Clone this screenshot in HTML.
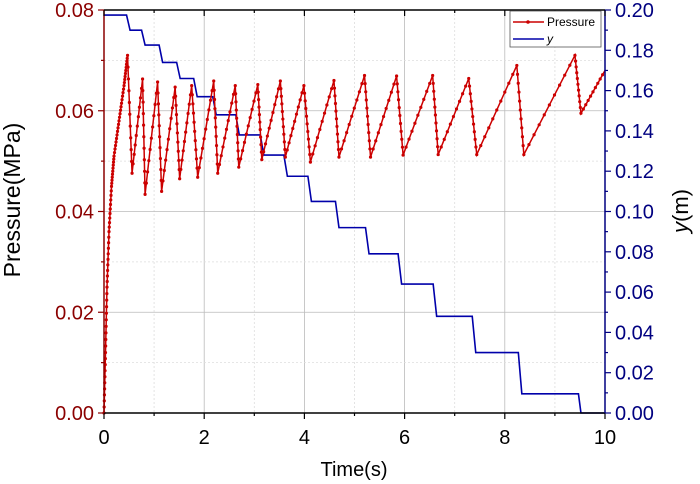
<!DOCTYPE html>
<html><head><meta charset="utf-8"><style>
body{margin:0;background:#fff}
svg{display:block;font-family:"Liberation Sans",sans-serif}
</style></head><body>
<svg id="chart" width="700" height="484" viewBox="0 0 700 484">
<g id="grid"></g>
<g id="series"></g>
<g id="axes"></g>
<g>
<rect x="510" y="11" width="91" height="36" fill="#fff" stroke="#555" stroke-width="0.8"/>
<g><line x1="513" y1="22" x2="544" y2="22" stroke="#cc0000" stroke-width="1.5"/><circle cx="528" cy="22" r="1.8" fill="#cc0000"/><text x="547" y="26" font-size="12" fill="#000">Pressure</text></g>
<g><line x1="513" y1="39" x2="544" y2="39" stroke="#0000aa" stroke-width="1.5"/><text x="547" y="43" font-size="12" font-style="italic" fill="#000">y</text></g>
</g>
<text x="20" y="200" font-size="23" fill="#000" text-anchor="middle" transform="rotate(-90 20 200)">Pressure(MPa)</text>
<text x="688" y="211" font-size="22" fill="#000" text-anchor="middle" transform="rotate(-90 688 211)"><tspan font-style="italic">y</tspan>(m)</text>
<text x="354" y="476" font-size="20" fill="#000" text-anchor="middle">Time(s)</text>
</svg>
<script>
const pT=[0,0.03,0.06,0.1,0.15,0.2,0.3,0.4,0.47,0.56,0.77,0.82,1.07,1.15,1.42,1.51,1.75,1.87,2.19,2.27,2.62,2.69,3.07,3.15,3.52,3.62,3.99,4.12,4.59,4.69,5.2,5.32,5.84,5.97,6.56,6.67,7.28,7.44,8.24,8.38,9.4,9.52,10];
const pV=[0,0.012,0.025,0.036,0.045,0.051,0.058,0.065,0.071,0.0476,0.0663,0.0434,0.0657,0.044,0.0647,0.0465,0.065,0.0468,0.0659,0.0476,0.065,0.0488,0.0652,0.0503,0.0659,0.0508,0.065,0.0498,0.066,0.0508,0.067,0.0508,0.0669,0.0512,0.067,0.0513,0.0664,0.0513,0.069,0.0513,0.071,0.0595,0.068];
const yT=[0,0.45,0.52,0.75,0.82,1.1,1.17,1.45,1.52,1.79,1.86,2.17,2.24,2.63,2.7,3.12,3.19,3.59,3.66,4.07,4.14,4.62,4.69,5.22,5.29,5.87,5.94,6.57,6.64,7.35,7.42,8.27,8.34,9.47,9.52,10];
const yV=[0.1975,0.1975,0.19,0.19,0.1826,0.1826,0.174,0.174,0.166,0.166,0.157,0.157,0.148,0.148,0.138,0.138,0.128,0.128,0.1175,0.1175,0.105,0.105,0.092,0.092,0.079,0.079,0.064,0.064,0.048,0.048,0.030,0.030,0.0095,0.0095,0,0];
const xTicks=[0,2,4,6,8,10];
const leftTicks=["0.00","0.02","0.04","0.06","0.08"];
const rightTicks=["0.00","0.02","0.04","0.06","0.08","0.10","0.12","0.14","0.16","0.18","0.20"];
const L=104,R=605,T=10,B=413;
const sx=t=>L+(R-L)*t/10, sP=v=>B-(B-T)*v/0.08, sY=v=>B-(B-T)*v/0.2;
const NS="http://www.w3.org/2000/svg";
function mk(tag,attrs,parent){const e=document.createElementNS(NS,tag);for(const k in attrs)e.setAttribute(k,attrs[k]);parent.appendChild(e);return e;}
const grid=document.getElementById('grid'),axes=document.getElementById('axes'),ser=document.getElementById('series');
for(let t=0;t<=10;t++){const x=sx(t);const g=mk('line',{x1:x,x2:x,y1:T,y2:B,stroke:t%2?'#ddd':'#bbb','stroke-width':0.8,'stroke-dasharray':t%2?'2,2':'none'},grid);}
for(let i=0;i<=8;i++){const y=sP(i*0.01);const g=mk('line',{x1:L,x2:R,y1:y,y2:y,stroke:i%2?'#ddd':'#bbb','stroke-width':0.8,'stroke-dasharray':i%2?'2,2':'none'},grid);}
let d=yT.map((t,i)=>(i?'L':'M')+sx(t)+','+sY(yV[i])).join('');
const yl=mk('path',{d:d,fill:'none',stroke:'#0000aa','stroke-width':1.6},ser);


d=pT.map((t,i)=>(i?'L':'M')+sx(t)+','+sP(pV[i])).join('');
const pl=mk('path',{d:d,fill:'none',stroke:'#cc0000','stroke-width':1.5},ser);


for(let i=0;i<pT.length-1;i++){for(let k=0;k<10;k++){const f=k/10;const c=mk('circle',{cx:sx(pT[i]+(pT[i+1]-pT[i])*f),cy:sP(pV[i]+(pV[i+1]-pV[i])*f),r:1.6,fill:'#cc0000'},ser);}}
const axTop=mk('line',{x1:L,x2:R,y1:T,y2:T,stroke:'#000','stroke-width':1.5},axes);


const axBot=mk('line',{x1:L,x2:R,y1:B,y2:B,stroke:'#000','stroke-width':1.5},axes);


const axLeft=mk('line',{x1:L,x2:L,y1:T,y2:B,stroke:'#8b0000','stroke-width':1.5},axes);


const axRight=mk('line',{x1:R,x2:R,y1:T,y2:B,stroke:'#000080','stroke-width':1.5},axes);


for(let t=0;t<=10;t++){const x=sx(t),len=t%2?3:6;mk('line',{x1:x,x2:x,y1:B,y2:B+len,stroke:'#000','stroke-width':1.2},axes);mk('line',{x1:x,x2:x,y1:T,y2:T+len,stroke:'#000','stroke-width':1.2},axes);}
xTicks.forEach(t=>{const e=mk('text',{x:sx(t),y:B+31,'font-size':20,'text-anchor':'middle',fill:'#000'},axes);e.textContent=t;});
for(let i=0;i<=8;i++){const y=sP(i*0.01),len=i%2?3:6;mk('line',{x1:L-len,x2:L,y1:y,y2:y,stroke:'#8b0000','stroke-width':1.2},axes);}
leftTicks.forEach((s,i)=>{const e=mk('text',{x:L-10,y:sP(i*0.02)+7,'font-size':20,'text-anchor':'end',fill:'#8b0000'},axes);e.textContent=s;});
for(let i=0;i<=20;i++){const y=sY(i*0.01),len=i%2?3:6;mk('line',{x1:R,x2:R+len,y1:y,y2:y,stroke:'#000080','stroke-width':1.2},axes);}
rightTicks.forEach((s,i)=>{const e=mk('text',{x:R+10,y:sY(i*0.02)+7,'font-size':20,fill:'#000080'},axes);e.textContent=s;});
</script>
</body></html>
